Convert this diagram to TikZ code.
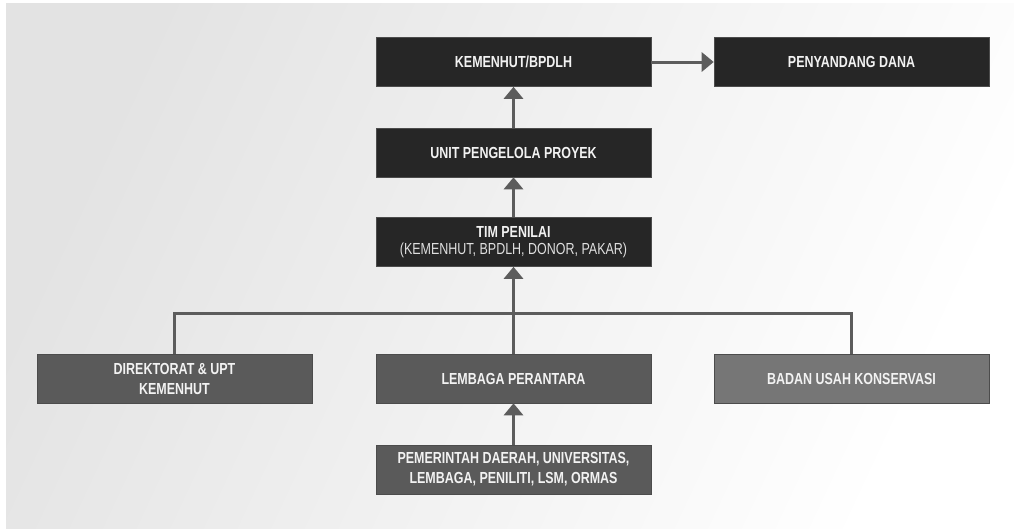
\documentclass[tikz,border=0pt]{standalone}
\usepackage{fontspec}
\setmainfont{Liberation Sans}[FakeStretch=0.78]
\usepackage{tikz}
\usetikzlibrary{arrows.meta}

\definecolor{boxdark}{HTML}{262626}
\definecolor{boxmid}{HTML}{5A5A5A}
\definecolor{boxlight}{HTML}{767676}
\definecolor{linkgray}{HTML}{5C5C5C}
\definecolor{txtwhite}{HTML}{F2F2F2}

\begin{document}
\begin{tikzpicture}[x=1pt,y=-1pt,
  unit/.style={draw=gray!60!black, line width=0.6pt, minimum width=275pt, minimum height=49pt,
    inner sep=0pt, align=center, text=txtwhite, font=\fontsize{16}{20}\selectfont\bfseries},
  link/.style={draw=linkgray, line width=3pt},
  tip/.style={-{Triangle[width=19pt,length=12pt]}}]
\useasboundingbox (0,0) rectangle (1014,528);

% background
\shade[shading=axis, top color=gray!22, bottom color=white, shading angle=65]
  (6,3) rectangle (1014,528);

% top chain
\node[unit, fill=boxdark] (kemenhut) at (513.5,62) {KEMENHUT/BPDLH};
\node[unit, fill=boxdark] (dana) at (851.5,62) {PENYANDANG DANA};
\node[unit, fill=boxdark] (upp) at (513.5,152.5) {UNIT PENGELOLA PROYEK};
\node[unit, fill=boxdark] (tim) at (513.5,242) {TIM PENILAI\\[-3pt]
  {\mdseries\color{gray!25}(KEMENHUT, BPDLH, DONOR, PAKAR)}};

% bottom row
\node[unit, fill=boxmid] (direktorat) at (174.5,378.5) {DIREKTORAT \& UPT\\KEMENHUT};
\node[unit, fill=boxmid] (perantara) at (513.5,378.5) {LEMBAGA PERANTARA};
\node[unit, fill=boxlight] (badan) at (851.5,378.5) {BADAN USAH KONSERVASI};
\node[unit, fill=boxmid] (pemda) at (513.5,469.5) {PEMERINTAH DAERAH, UNIVERSITAS,\\LEMBAGA, PENILITI, LSM, ORMAS};

\coordinate (bus) at (513.5,313);

% connectors
\draw[link] (direktorat.north) |- (bus) -| (badan.north);
\draw[link, tip] (perantara.north) -- (tim.south);
\draw[link, tip] (tim.north) -- (upp.south);
\draw[link, tip] (upp.north) -- (kemenhut.south);
\draw[link, tip] (kemenhut.east) -- (dana.west);
\draw[link, tip] (pemda.north) -- (perantara.south);
\end{tikzpicture}
\end{document}
